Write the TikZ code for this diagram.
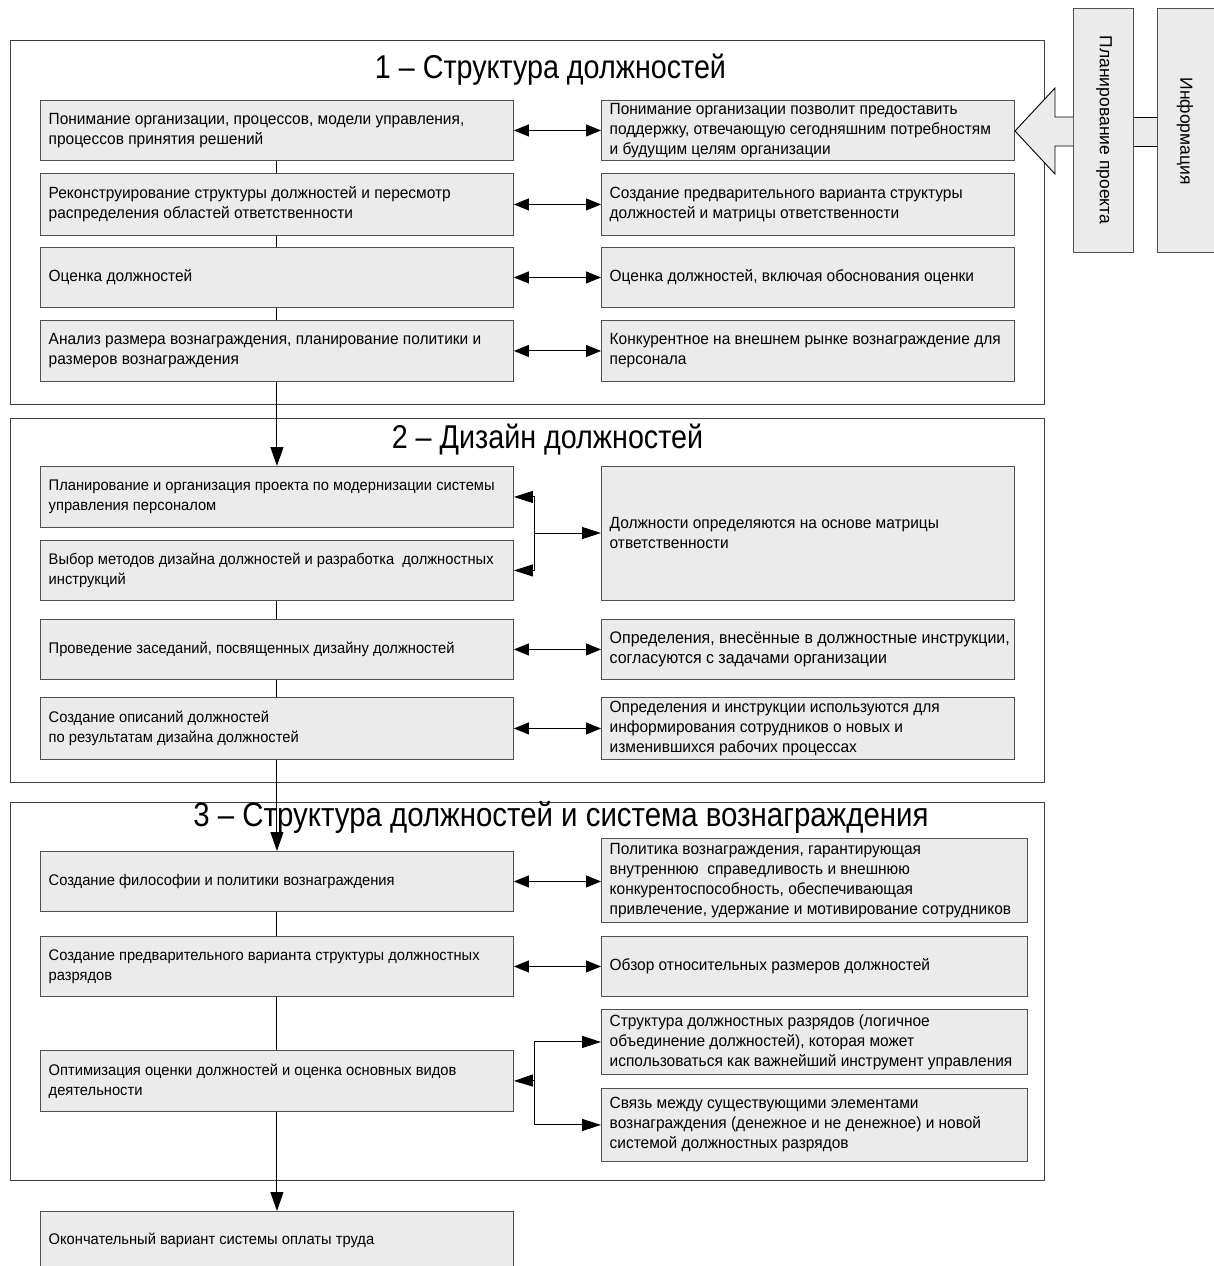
\documentclass[tikz,border=0pt]{standalone}
\usepackage{fontspec}
\setmainfont{Liberation Sans}
\newfontfamily\bodyfont[FakeStretch=0.955]{Liberation Sans}
\newfontfamily\titlefont[FakeStretch=0.87]{Liberation Sans}
\usetikzlibrary{arrows.meta}
\definecolor{boxfill}{HTML}{EBEBEB}
\definecolor{boxline}{HTML}{505050}
\definecolor{frameline}{HTML}{404040}
\newcommand\mybox[7][tx]{%
  \node[bx, minimum width=#5pt, minimum height=#6pt] (#2) at (#3,#4) {};
  \node[#1] (#2t) at ([xshift=8.5pt]#2.west) {#7};}
\begin{document}
\begin{tikzpicture}[x=1pt,y=-1pt,
  bx/.style={draw=boxline, fill=boxfill, line width=0.9pt, inner sep=0pt, anchor=north west},
  tx/.style={anchor=west, align=left, inner sep=0pt, font=\bodyfont\fontsize{16.2}{20}\selectfont},
  txs/.style={tx, font=\bodyfont\fontsize{15.4}{20}\selectfont},
  txl/.style={tx, font=\bodyfont\fontsize{16.7}{20}\selectfont},
  sframe/.style={draw=frameline, line width=0.9pt},
  ttl/.style={font=\titlefont\fontsize{33}{34}\selectfont, inner sep=0pt},
  dbl/.style={{Triangle[length=15pt,width=12pt]}-{Triangle[length=15pt,width=12pt]}, line width=1pt},
  toarr/.style={-{Triangle[length=19pt,width=13pt]}, line width=1pt},
  rarr/.style={-{Triangle[length=19pt,width=12pt]}, line width=1pt},
  link/.style={line width=1pt}
]
\useasboundingbox (0,0) rectangle (1214,1266);
\fill[white] (0,0) rectangle (1214,1266);

% section frames
\draw[sframe] (10,40) rectangle (1044,404);
\draw[sframe] (10,418) rectangle (1044,782);
\draw[sframe] (10,802) rectangle (1044,1180);

% titles
\node[ttl] (t1) at (550.5,70) {1 – Структура должностей};
\node[ttl] (t2) at (547.5,440) {2 – Дизайн должностей};
\node[ttl, font=\titlefont\fontsize{33.8}{34}\selectfont] (t3) at (561,817) {3 – Структура должностей и система вознаграждения};

% section 1
\mybox{a1}{40}{100}{473}{60}{Понимание организации, процессов, модели управления,\\процессов принятия решений}
\mybox{a2}{40}{173}{473}{62}{Реконструирование структуры должностей и пересмотр\\распределения областей ответственности}
\mybox{a3}{40}{247}{473}{60}{Оценка должностей}
\mybox{a4}{40}{320}{473}{61}{Анализ размера вознаграждения, планирование политики и\\размеров вознаграждения}

\mybox{b1}{601}{100}{413}{60}{Понимание организации позволит предоставить\\поддержку, отвечающую сегодняшним потребностям\\и будущим целям организации}
\mybox{b2}{601}{173}{413}{62}{Создание предварительного варианта структуры\\должностей и матрицы ответственности}
\mybox{b3}{601}{247}{413}{60}{Оценка должностей, включая обоснования оценки}
\mybox{b4}{601}{320}{413}{61}{Конкурентное на внешнем рынке вознаграждение для\\персонала}

% section 2
\mybox[txs]{c1}{40}{466}{473}{61}{Планирование и организация проекта по модернизации системы\\управления персоналом}
\mybox[txs]{c2}{40}{540}{473}{60}{Выбор методов дизайна должностей и разработка \ должностных\\инструкций}
\mybox[txs]{c3}{40}{619}{473}{60}{Проведение заседаний, посвященных дизайну должностей}
\mybox[txs]{c4}{40}{697}{473}{62}{Создание описаний должностей\\по результатам дизайна должностей}

\mybox{d1}{601}{466}{413}{134}{Должности определяются на основе матрицы\\ответственности}
\mybox[txl]{d3}{601}{619}{413}{60}{Определения, внесённые в должностные инструкции,\\согласуются с задачами организации}
\mybox{d4}{601}{697}{413}{62}{Определения и инструкции используются для\\информирования сотрудников о новых и\\изменившихся рабочих процессах}

% section 3
\mybox[txs]{e1}{40}{851}{473}{60}{Создание философии и политики вознаграждения}
\mybox[txs]{e2}{40}{936}{473}{60}{Создание предварительного варианта структуры должностных\\разрядов}
\mybox[txs]{e3}{40}{1050}{473}{61}{Оптимизация оценки должностей и оценка основных видов\\деятельности}

\mybox{f1}{601}{838}{426}{84}{Политика вознаграждения, гарантирующая\\внутреннюю \ справедливость и внешнюю\\конкурентоспособность, обеспечивающая\\привлечение, удержание и мотивирование сотрудников}
\mybox{f2}{601}{936}{426}{60}{Обзор относительных размеров должностей}
\mybox{f3}{601}{1009}{426}{65}{Структура должностных разрядов (логичное\\объединение должностей), которая может\\использоваться как важнейший инструмент управления}
\mybox{f4}{601}{1088}{426}{73}{Связь между существующими элементами\\вознаграждения (денежное и не денежное) и новой\\системой должностных разрядов}

% final
\mybox[txs]{g}{40}{1211}{473}{58}{Окончательный вариант системы оплаты труда}

% trunk
\draw[link] (a1.south) -- (a2.north);
\draw[link] (a2.south) -- (a3.north);
\draw[link] (a3.south) -- (a4.north);
\draw[toarr] (a4.south) -- (c1.north);
\draw[link] (c2.south) -- (c3.north);
\draw[link] (c3.south) -- (c4.north);
\draw[toarr] (c4.south) -- (e1.north);
\draw[link] (e1.south) -- (e2.north);
\draw[link] (e2.south) -- (e3.north);
\draw[toarr] (e3.south) -- (g.north);

% horizontal double arrows
\draw[dbl] (a1.east) -- (a1.east -| b1.west);
\draw[dbl] (a2.east) -- (a2.east -| b2.west);
\draw[dbl] (a3.east) -- (a3.east -| b3.west);
\draw[dbl] (a4.east) -- (a4.east -| b4.west);
\draw[dbl] (c3.east) -- (c3.east -| d3.west);
\draw[dbl] (c4.east) -- (c4.east -| d4.west);
\draw[dbl] (e1.east) -- (e1.east -| f1.west);
\draw[dbl] (e2.east) -- (e2.east -| f2.west);

% bracket section 2
\coordinate (j2) at (534,533);
\draw[{Triangle[length=19pt,width=12pt]}-{Triangle[length=19pt,width=12pt]}, line width=1pt]
  (c1.east) -- (c1.east -| j2) -- (c2.east -| j2) -- (c2.east);
\draw[rarr] (j2) -- (j2 -| d1.west);

% bracket section 3
\coordinate (j3) at (534,1080.5);
\draw[{Triangle[length=19pt,width=12pt]}-{Triangle[length=19pt,width=12pt]}, line width=1pt]
  (f3.west) -- (f3.west -| j3) -- (f4.west -| j3) -- (f4.west);
\draw[rarr] (j3) -- (e3.east);

% right side: project planning and information
\node[bx, minimum width=60pt, minimum height=244pt] (pp) at (1073,8) {};
\node[bx, minimum width=70pt, minimum height=244pt] (inf) at (1157,8) {};
\node[rotate=-90, inner sep=0pt, font=\fontsize{17.5}{18}\selectfont] (ppt) at (1104,130) {Планирование проекта};
\node[rotate=-90, inner sep=0pt, font=\fontsize{17.5}{18}\selectfont] (inft) at (1185,131) {Информация};
% connector between boxes
\fill[boxfill] (pp.east |- 0,117) rectangle (inf.west |- 0,146);
\draw[line width=0.9pt] (pp.east |- 0,117) -- (inf.west |- 0,117);
\draw[line width=0.9pt] (pp.east |- 0,146) -- (inf.west |- 0,146);
% big block arrow
\coordinate (bt) at (1015,131);
\draw[fill=boxfill, line width=0.9pt] (pp.west |- 0,117) -- (1055,117) -- (1055,88) -- (bt) -- (1055,174) -- (1055,146) -- (pp.west |- 0,146);
\end{tikzpicture}
\end{document}
